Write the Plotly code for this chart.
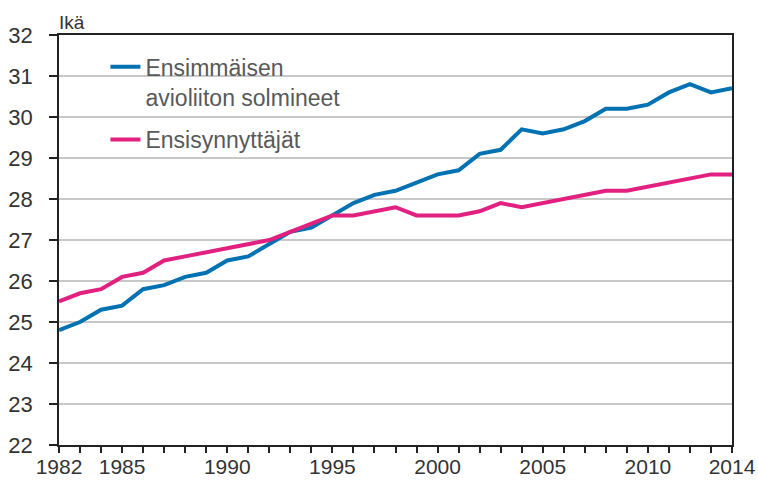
import plotly.graph_objects as go

years = list(range(1982, 2015))
marriage = [24.8, 25.0, 25.3, 25.4, 25.8, 25.9, 26.1, 26.2, 26.5, 26.6,
            26.9, 27.2, 27.3, 27.6, 27.9, 28.1, 28.2, 28.4, 28.6, 28.7,
            29.1, 29.2, 29.7, 29.6, 29.7, 29.9, 30.2, 30.2, 30.3, 30.6,
            30.8, 30.6, 30.7]
firstbirth = [25.5, 25.7, 25.8, 26.1, 26.2, 26.5, 26.6, 26.7, 26.8, 26.9,
              27.0, 27.2, 27.4, 27.6, 27.6, 27.7, 27.8, 27.6, 27.6, 27.6,
              27.7, 27.9, 27.8, 27.9, 28.0, 28.1, 28.2, 28.2, 28.3, 28.4,
              28.5, 28.6, 28.6]
series_names = ["Ensimmäisen<br>avioliiton solmineet", "Ensisynnyttäjät"]
labeled_years = [1982, 1985, 1990, 1995, 2000, 2005, 2010, 2014]
y_ticks = list(range(22, 33))
y_title = "Ikä"

FONT = "Liberation Sans, Arial, sans-serif"

fig = go.Figure()
fig.add_trace(go.Scatter(x=years, y=marriage, mode="lines", name=series_names[0],
                         legendgroup="g1",
                         line=dict(color="#0072B2", width=4)))
fig.add_trace(go.Scatter(x=years, y=firstbirth, mode="lines", name=series_names[1],
                         legendgroup="g2",
                         line=dict(color="#E2207F", width=4)))

fig.update_layout(
    width=758, height=480,
    margin=dict(l=59, r=26, t=35, b=35),
    paper_bgcolor="white", plot_bgcolor="white",
    font=dict(family=FONT, size=22, color="#333333"),
    showlegend=True,
    legend=dict(x=0.069, y=0.975, xanchor="left", yanchor="top",
                bgcolor="rgba(0,0,0,0)", font=dict(size=23, color="#595959"),
                valign="top", tracegroupgap=10),
    annotations=[dict(text=y_title, xref="paper", yref="paper", x=-0.003, y=1,
                      xanchor="left", yanchor="bottom", showarrow=False,
                      font=dict(size=19, color="#333333"), yshift=0)],
)
fig.update_xaxes(
    range=[years[0], years[-1]], automargin=False,
    tickmode="array", tickvals=years,
    ticktext=[str(y) if y in labeled_years else "" for y in years],
    ticks="outside", ticklen=6, tickcolor="#222", tickwidth=1.5,
    tickfont=dict(size=21), ticklabelstandoff=-4,
    showline=True, linecolor="#222", linewidth=1.5, mirror=True,
    showgrid=False, zeroline=False, tickangle=0,
)
fig.update_yaxes(
    range=[22, 32], tickvals=y_ticks, automargin=False,
    ticks="outside", ticklen=8, tickcolor="#222", tickwidth=1.5,
    ticklabelstandoff=12,
    showline=True, linecolor="#222", linewidth=1.5, mirror=True,
    showgrid=True, gridcolor="#c8c8c8", gridwidth=1.5, zeroline=False,
)

fig.write_html("out.html", config={"displayModeBar": False},
               post_script="document.body.style.margin='0';")
